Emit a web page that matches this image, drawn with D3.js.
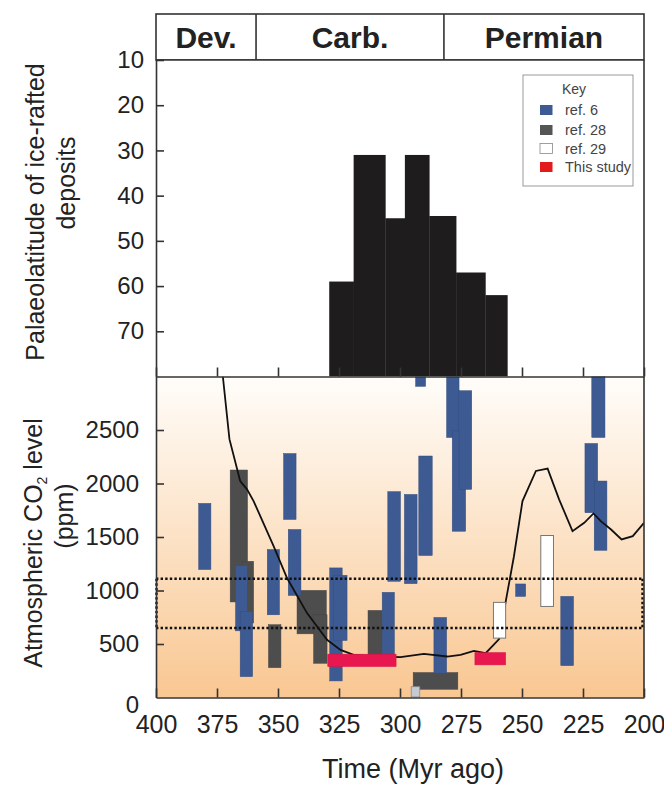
<!DOCTYPE html>
<html><head><meta charset="utf-8">
<script src="https://cdn.jsdelivr.net/npm/d3@7"></script>
<style>body{margin:0;background:#fff;} svg{display:block;font-family:"Liberation Sans",Arial,sans-serif;}</style>
</head><body><svg id="c" width="664" height="786"></svg>
<script>
// ---------- data ----------
const periodNames = ["Dev.", "Carb.", "Permian"];
const periodBounds = [400, 359, 282, 200];
const timeTicks = [400, 375, 350, 325, 300, 275, 250, 225, 200];
const latTicks = [10, 20, 30, 40, 50, 60, 70];
const co2Ticks = [0, 500, 1000, 1500, 2000, 2500];
// ice-rafted deposit palaeolatitude histogram (bin edges in Myr, latitude of bin top)
const histEdges = [329, 319, 306, 298, 288, 277, 265, 256];
const histLatitude = [59, 31, 45, 31, 44.5, 57, 62];
// model CO2 curve
const modelTime = [372.6, 369.9, 365.5, 362.7, 360, 351.8, 346.3, 338.1, 329.9, 324.4, 319, 310.8, 299.8, 290.2, 280.6, 275.2, 269.7, 264.9, 259.4, 256.7, 253.3, 249.8, 244.3, 239.5, 234.8, 229.3, 224.5, 220.7, 217.7, 213.5, 209.2, 204.6, 200];
const modelCO2 = [3000, 2414, 2023, 1945, 1836, 1414, 1117, 789, 539, 445, 398, 383, 377, 408, 383, 398, 436, 414, 546, 893, 1320, 1836, 2117, 2139, 1852, 1554, 1633, 1720, 1648, 1570, 1477, 1508, 1633];
// proxy estimates: [older age, younger age, low CO2, high CO2]
const ref6 = [
  [382.5, 377.5, 1196, 1814], [367.4, 362.5, 623, 1233], [365.5, 360.4, 195, 804],
  [354.4, 349.4, 773, 1383], [347.7, 342.6, 1664, 2280], [345.8, 340.6, 954, 1570],
  [328.8, 323.7, 155, 1211], [327.2, 321.7, 533, 1142], [307.3, 302.3, 383, 983],
  [305, 299.8, 1086, 1924], [298.2, 293, 1064, 1898], [293.6, 289.5, 2908, 3050],
  [292.3, 286.8, 1327, 2257], [286.1, 280.9, 227, 748], [280.9, 275.8, 2430, 3050],
  [278.6, 273.1, 1554, 2492], [275.8, 270.6, 1945, 2867], [252.6, 248.5, 945, 1061],
  [234.1, 228.9, 298, 945], [224.2, 219, 1727, 2374], [221.4, 216, 2430, 3050],
  [220.4, 215.2, 1376, 2023]
];
const ref28 = [
  [369.6, 362.5, 893, 2126], [364.8, 360, 696, 1273], [353.9, 348.8, 279, 680],
  [342.2, 330.2, 595, 1001], [335.4, 329.9, 320, 773], [313.1, 307.3, 383, 814],
  [294.6, 276.3, 77, 233]
];
const ref29 = [[261.7, 256.7, 555, 889], [242.3, 237.1, 851, 1514]];
const thisStudy = [[329.6, 301.6, 289, 405], [269.3, 256.7, 305, 420]];
const otherEst = [[295.4, 291.9, 5, 101]];
const glacialBand = [650, 1110];
const legendLabels = ["ref. 6", "ref. 28", "ref. 29", "This study"];

// ---------- layout ----------
const svg = d3.select("#c");
const L = 156, R = 644, headTop = 14, headBot = 60, midY = 376.5, botY = 697.5;
const x = d3.scaleLinear().domain([400, 200]).range([L, R]);
const yLat = d3.scaleLinear().domain([10, 80]).range([headBot, midY]);
const yCO2 = d3.scaleLinear().domain([0, 3000]).range([botY, midY]);
const axisCol = "#333";
const textCol = "#222";
const blue = "#3d5a92", dgrey = "#4d4d4d", red = "#e8174f";

// gradient
const defs = svg.append("defs");
const g = defs.append("linearGradient").attr("id", "bg").attr("x1", 0).attr("y1", 0).attr("x2", 0).attr("y2", 1);
g.append("stop").attr("offset", "0%").attr("stop-color", "#fffdfa");
g.append("stop").attr("offset", "100%").attr("stop-color", "#f9c792");
defs.append("clipPath").attr("id", "clipLow").append("rect")
  .attr("x", L).attr("y", midY).attr("width", R - L).attr("height", botY - midY);

// header
svg.append("rect").attr("x", L).attr("y", headTop).attr("width", R - L).attr("height", headBot - headTop)
  .attr("fill", "#fff").attr("stroke", axisCol).attr("stroke-width", 1.6);
periodBounds.slice(1, -1).forEach(b => {
  svg.append("line").attr("x1", x(b)).attr("x2", x(b)).attr("y1", headTop).attr("y2", headBot)
    .attr("stroke", axisCol).attr("stroke-width", 1.6);
});
periodNames.forEach((n, i) => {
  svg.append("text").attr("x", (x(periodBounds[i]) + x(periodBounds[i + 1])) / 2).attr("y", 48)
    .attr("text-anchor", "middle").attr("font-weight", "bold").attr("font-size", 30).attr("fill", textCol).text(n);
});

// upper panel
const up = svg.append("g");
up.append("rect").attr("x", L).attr("y", headBot).attr("width", R - L).attr("height", midY - headBot).attr("fill", "#fff");
const hist = histLatitude.map((v, i) => ({ t0: histEdges[i], t1: histEdges[i + 1], v }));
up.selectAll("rect.h").data(hist).join("rect").attr("class", "h")
  .attr("x", d => x(d.t0)).attr("width", d => x(d.t1) - x(d.t0) + 0.3)
  .attr("y", d => yLat(d.v)).attr("height", d => midY - yLat(d.v)).attr("fill", "#1e1c1d");

// lower panel
const low = svg.append("g");
low.append("rect").attr("x", L).attr("y", midY).attr("width", R - L).attr("height", botY - midY).attr("fill", "url(#bg)");
const plot = low.append("g").attr("clip-path", "url(#clipLow)");
function boxes(data, fill, stroke, sw) {
  plot.append("g").selectAll("rect").data(data).join("rect")
    .attr("x", d => x(d[0])).attr("width", d => x(d[1]) - x(d[0]))
    .attr("y", d => yCO2(d[3])).attr("height", d => yCO2(d[2]) - yCO2(d[3]))
    .attr("fill", fill).attr("stroke", stroke).attr("stroke-width", sw);
}
boxes(ref28, dgrey, "#444", 0.5);
boxes(ref6, blue, "#344e80", 0.5);
boxes(otherEst, "#c5c9d2", "#888", 0.8);
const line = d3.line().x((d, i) => x(modelTime[i])).y(d => yCO2(d));
plot.append("path").datum(modelCO2).attr("d", line).attr("fill", "none").attr("stroke", "#111").attr("stroke-width", 1.8);
boxes(ref29, "#fff", "#777", 1);
boxes(thisStudy, red, "#d41445", 0.5);

// glacial threshold band (dotted)
const dot = { "stroke": "#111", "stroke-width": 2.4, "stroke-dasharray": "2.4,2.2" };
function dline(x1, y1, x2, y2) {
  const l = low.append("line").attr("x1", x1).attr("y1", y1).attr("x2", x2).attr("y2", y2);
  Object.entries(dot).forEach(([k, v]) => l.attr(k, v));
}
glacialBand.forEach(v => dline(L, yCO2(v), R - 1, yCO2(v)));
dline(L + 0.5, yCO2(glacialBand[1]), L + 0.5, yCO2(glacialBand[0]));
dline(R - 1.5, yCO2(glacialBand[1]), R - 1.5, yCO2(glacialBand[0]));

// axes
function styleAxis(sel) {
  sel.selectAll("path.domain").attr("stroke", axisCol).attr("stroke-width", 1.6);
  sel.selectAll(".tick line").attr("stroke", axisCol).attr("stroke-width", 1.6);
  sel.selectAll(".tick text").attr("fill", textCol).attr("font-family", "Liberation Sans, Arial, sans-serif");
}
const ax1 = svg.append("g").attr("transform", `translate(${L},0)`)
  .call(d3.axisLeft(yLat).tickValues(latTicks).tickFormat(d3.format("d")).tickSizeInner(-8).tickSizeOuter(0).tickPadding(12));
ax1.selectAll(".tick text").attr("font-size", 24);
styleAxis(ax1);
const ax1b = svg.append("g").attr("transform", `translate(0,${midY})`)
  .call(d3.axisBottom(x).tickValues(timeTicks).tickSizeInner(-9).tickSizeOuter(0).tickFormat(""));
styleAxis(ax1b);
const ax2 = svg.append("g").attr("transform", `translate(${L},0)`)
  .call(d3.axisLeft(yCO2).tickValues(co2Ticks).tickFormat(d3.format("d")).tickSizeInner(-8).tickSizeOuter(0).tickPadding(17));
ax2.selectAll(".tick text").attr("font-size", 24);
ax2.selectAll(".tick").filter(d => d === 0).select("line").remove();
ax2.selectAll(".tick").filter(d => d === 0).select("text").attr("dy", "0.62em");
styleAxis(ax2);
const ax2b = svg.append("g").attr("transform", `translate(0,${botY})`)
  .call(d3.axisBottom(x).tickValues(timeTicks).tickFormat(d3.format("d")).tickSizeInner(-9).tickSizeOuter(0).tickPadding(18));
ax2b.selectAll(".tick text").attr("font-size", 25);
styleAxis(ax2b);
// right borders
[[headBot, midY], [midY, botY]].forEach(([a, b]) => {
  svg.append("line").attr("x1", R).attr("x2", R).attr("y1", a).attr("y2", b).attr("stroke", axisCol).attr("stroke-width", 1.6);
});
svg.append("line").attr("x1", L).attr("x2", R).attr("y1", headBot).attr("y2", headBot).attr("stroke", axisCol).attr("stroke-width", 1.6);

// axis titles
svg.append("text").attr("x", 413).attr("y", 778).attr("text-anchor", "middle")
  .attr("font-size", 27).attr("fill", textCol).text("Time (Myr ago)");
function vlabel(txt, bx, cy) {
  return svg.append("text").attr("transform", `translate(${bx},${cy}) rotate(-90)`).attr("text-anchor", "middle")
    .attr("font-size", 25).attr("fill", textCol).text(txt);
}
vlabel("Palaeolatitude of ice-rafted", 44, 212);
vlabel("deposits", 75, 183);
const co2Lab = svg.append("text").attr("transform", "translate(42,543) rotate(-90)").attr("text-anchor", "middle")
  .attr("font-size", 25).attr("fill", textCol);
co2Lab.append("tspan").text("Atmospheric CO");
co2Lab.append("tspan").attr("font-size", 14).attr("dy", 5).text("2");
co2Lab.append("tspan").attr("dy", -5).text(" level");
vlabel("(ppm)", 73, 516);

// legend
const lg = svg.append("g");
lg.append("rect").attr("x", 523).attr("y", 75).attr("width", 110).attr("height", 111)
  .attr("fill", "#fff").attr("stroke", "#999").attr("stroke-width", 1);
lg.append("text").attr("x", 574).attr("y", 94).attr("text-anchor", "middle").attr("font-size", 14).attr("fill", "#444").text("Key");
const legFill = [blue, "#555", "#fff", "#e31a1c"];
const legY = [110, 130, 148.5, 167];
legendLabels.forEach((lab, i) => {
  lg.append("rect").attr("x", 540).attr("y", legY[i] - 5).attr("width", 12.5).attr("height", 10)
    .attr("fill", legFill[i]).attr("stroke", i === 2 ? "#888" : "none").attr("stroke-width", 0.8);
  lg.append("text").attr("x", 565).attr("y", legY[i] + 5).attr("font-size", 14.5).attr("fill", "#444").text(lab);
});
</script></body></html>
